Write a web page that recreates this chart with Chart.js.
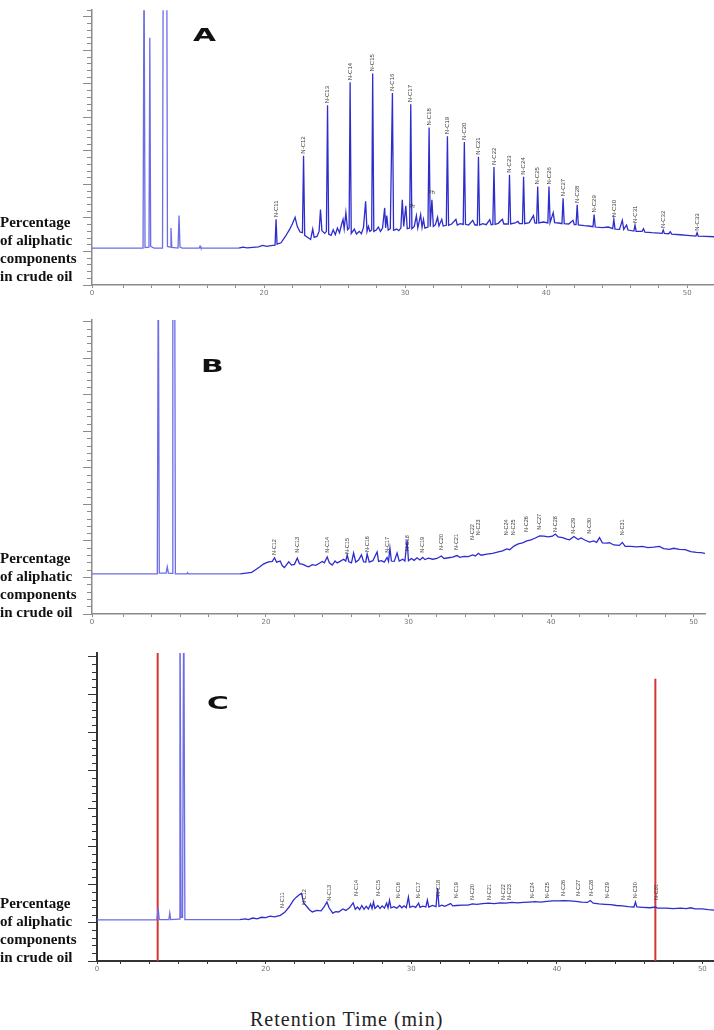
<!DOCTYPE html>
<html>
<head>
<meta charset="utf-8" />
<title>GC chromatograms of aliphatic fractions</title>
<style>
  body { margin: 0; background: #fff; width: 714px; height: 1030px; position: relative; overflow: hidden; }
  canvas { position: absolute; left: 0; }
  .ylab { position: absolute; left: 0; font: bold 15px/18px "Liberation Serif", "Times New Roman", serif; color: #111; white-space: nowrap; }
  .tag { position: absolute; font: bold 17px/17px "DejaVu Sans", sans-serif; transform: scaleX(1.75); transform-origin: left top; color: #111; }
  .xtitle { position: absolute; left: 250px; top: 1009px; font: 20px/20px "Liberation Serif", "Times New Roman", serif; letter-spacing: 1px; color: #222; white-space: nowrap; }
</style>
</head>
<body>
<canvas id="chartA" width="714" height="300" style="top:0px"></canvas>
<canvas id="chartB" width="714" height="325" style="top:305px"></canvas>
<canvas id="chartC" width="714" height="340" style="top:640px"></canvas>

<div class="tag" style="left:193px;top:27px">A</div>
<div class="tag" style="left:201px;top:358px">B</div>
<div class="tag" style="left:207px;top:695px">C</div>

<div class="ylab" style="top:213px">Percentage<br>of aliphatic<br>components<br>in crude oil</div>
<div class="ylab" style="top:549px">Percentage<br>of aliphatic<br>components<br>in crude oil</div>
<div class="ylab" style="top:894px">Percentage<br>of aliphatic<br>components<br>in crude oil</div>

<div class="xtitle">Retention Time (min)</div>

<script src="https://cdn.jsdelivr.net/npm/chart.js@4.4.1/dist/chart.umd.min.js"></script>
<script>
// retention time (min), detector response (arbitrary units)
const traceA = [
  [7.8,11],[11.42,11],[11.49,100],[11.56,11.2],[11.84,11.3],[11.9,73.8],[11.96,11.5],[12.2,11],
  [12.8,11],[12.85,100],[13.1,100],[13.15,11.5],[13.34,11.3],[13.4,17],[13.46,11.2],[13.9,11],
  [13.97,20.7],[14.04,11.3],[14.2,11],[15.4,11],[15.46,11.6],[15.52,11],[18.2,11],[18.5,11.3],
  [18.8,11.1],[19.6,11.4],[19.9,11.8],[20.2,11.5],[20.6,11.8],[20.78,11.9],[20.85,19.6],[20.92,12.2],
  [21.2,12.6],[21.5,14.4],[21.8,16.5],[22.0,18.2],[22.2,20.2],[22.35,17.5],[22.55,15.8],[22.72,15.6],
  [22.8,38.6],[22.88,14.8],[23.1,14.2],[23.3,13.6],[23.45,16.7],[23.55,14.2],[23.75,14.5],[23.9,16],
  [24.0,22.5],[24.1,16.2],[24.3,15.4],[24.42,16],[24.5,53.6],[24.58,15.2],[24.75,14.8],[24.9,16.5],
  [25.05,15],[25.2,17],[25.35,15.6],[25.5,18.2],[25.6,19.6],[25.68,16.8],[25.8,21.6],[25.92,16.5],
  [26.03,17],[26.1,60.5],[26.18,15.4],[26.4,16.7],[26.55,15.2],[26.75,16],[26.9,15.3],[27.05,17.2],
  [27.2,25],[27.3,16],[27.4,17.5],[27.5,16],[27.63,16.4],[27.7,63.1],[27.78,16],[27.95,16.4],
  [28.1,17.3],[28.25,16],[28.4,17],[28.55,23],[28.62,17],[28.7,20.7],[28.8,16.4],[28.95,16.8],
  [29.1,57.3],[29.18,16.3],[29.4,16.7],[29.55,16.2],[29.7,17],[29.8,25.4],[29.9,17.5],[30.05,23.6],
  [30.15,16.8],[30.32,17],[30.4,53.9],[30.48,16.8],[30.65,17.5],[30.8,20.7],[30.9,17],[31.1,21],
  [31.2,17.2],[31.3,19.6],[31.4,17],[31.62,17.3],[31.7,47],[31.78,17.4],[31.9,25.4],[32.0,17.5],
  [32.15,18],[32.3,20.2],[32.4,17.6],[32.6,19.6],[32.7,17.6],[32.92,17.8],[33.0,44.4],[33.08,17.8],
  [33.3,18.2],[33.6,19.6],[33.7,17.9],[33.9,18.3],[34.12,18.1],[34.2,42.7],[34.28,18.1],[34.5,17.9],
  [34.8,19.3],[34.95,17.9],[35.12,17.9],[35.2,38.3],[35.28,17.9],[35.5,18.3],[35.75,18],[36.0,19.5],
  [36.1,18],[36.22,18.1],[36.3,35.2],[36.38,18.1],[36.6,18.4],[36.9,19.6],[37.0,18.2],[37.32,18.2],
  [37.4,32.9],[37.48,18.2],[37.8,18.5],[38.0,19],[38.1,18.3],[38.32,18.3],[38.4,32.3],[38.48,18.3],
  [38.8,18.6],[39.1,20.7],[39.2,18.5],[39.32,18.4],[39.4,29.4],[39.48,18.5],[39.8,18.8],[40.12,18.5],
  [40.2,29.4],[40.28,18.6],[40.5,21.6],[40.6,18.6],[40.9,18.5],[41.12,18.3],[41.2,25.9],[41.28,18.3],
  [41.6,18.2],[41.9,19.3],[42.0,18],[42.12,18],[42.2,23.9],[42.28,17.9],[42.7,17.7],[43.0,17.6],
  [43.32,17.4],[43.4,21],[43.48,17.3],[44.0,17.1],[44.4,17.3],[44.72,16.8],[44.8,19.6],[44.88,16.7],
  [45.2,16.6],[45.4,19.3],[45.5,16.6],[45.7,17.9],[45.8,16.4],[46.22,16.1],[46.3,17.9],[46.38,16],
  [46.8,16],[46.9,16.8],[47.0,15.8],[47.5,15.6],[48.0,15.5],[48.22,15.4],[48.3,16.4],[48.38,15.4],
  [48.7,15.3],[48.8,15.9],[48.9,15.2],[49.5,15],[50.0,14.8],[50.62,14.6],[50.7,15.6],[50.78,14.6],
  [51.3,14.5],[51.9,14.4]
];

const traceB = [
  [7.8,11],[12.38,11],[12.45,100],[12.52,11.2],[13.0,11.2],[13.08,12.9],[13.16,11.2],[13.42,11.1],
  [13.47,100],[13.6,100],[13.65,11],[14.45,11],[14.5,11.3],[14.55,11],[18.2,11],[18.6,11.2],
  [19.0,11.4],[19.3,12.2],[19.6,13],[19.8,13.6],[20.0,14],[20.2,14.3],[20.45,14.4],[20.6,15.4],
  [20.75,14.2],[21.0,14.5],[21.15,13.2],[21.3,12.7],[21.45,13.5],[21.6,14.3],[21.8,13.4],[22.0,13.6],
  [22.2,15.3],[22.35,13.8],[22.6,13.6],[22.85,13.1],[23.0,12.9],[23.25,13.5],[23.5,13.3],[23.75,13.9],
  [23.95,14.4],[24.1,14],[24.3,15.6],[24.45,14],[24.65,13.4],[24.85,14.5],[25.0,14],[25.2,14.4],
  [25.45,15],[25.6,14.5],[25.7,16.2],[25.82,14.3],[26.0,14],[26.15,16.7],[26.3,14.2],[26.5,14.8],
  [26.7,16.2],[26.85,14.3],[27.0,14.2],[27.1,16.4],[27.25,14.2],[27.5,14.6],[27.8,17],[27.9,14.4],
  [28.1,14.6],[28.3,14.2],[28.5,15.5],[28.6,14.4],[28.7,18],[28.8,14.5],[29.0,14.4],[29.2,16.7],
  [29.35,14.5],[29.6,15],[29.75,14.5],[29.9,20.3],[30.0,14.6],[30.2,15.2],[30.4,14.7],[30.6,15.4],
  [30.8,14.8],[31.0,15.5],[31.15,14.9],[31.4,15.3],[31.7,15],[32.0,15.2],[32.3,15.9],[32.5,15.2],
  [32.8,15.4],[33.1,15.6],[33.4,16],[33.6,15.5],[33.9,15.8],[34.2,15.7],[34.5,16.2],[34.7,15.9],
  [34.9,16.6],[35.1,16.1],[35.5,16.4],[35.9,16.6],[36.3,17],[36.6,17.3],[36.9,17.8],[37.1,17.6],
  [37.4,18.6],[37.7,19.2],[38.0,19.5],[38.3,20],[38.6,20.3],[38.9,20.8],[39.2,21.4],[39.5,21.3],
  [39.8,21.1],[40.1,21.3],[40.3,21.9],[40.5,21.1],[40.8,20.9],[41.1,20.5],[41.3,20.3],[41.6,21.2],
  [41.9,20.4],[42.1,20.8],[42.4,20.2],[42.7,19.7],[43.0,20],[43.2,19.6],[43.4,20.9],[43.6,19.5],
  [43.9,19.4],[44.1,19.5],[44.4,18.9],[44.8,18.8],[45.0,19.6],[45.2,18.5],[45.6,18.5],[46.0,18.4],
  [46.4,18.5],[46.8,18.2],[47.2,18.3],[47.6,18.5],[47.9,17.9],[48.3,17.7],[48.6,18],[49.0,17.7],
  [49.4,17.6],[49.8,17.1],[50.2,16.9],[50.5,16.8],[50.8,16.6]
];

const traceC = [
  [8.4,10.8],[12.52,10.8],[12.6,14],[12.68,10.9],[13.34,10.9],[13.4,12.6],[13.46,10.9],[14.04,11],
  [14.1,100],[14.18,11.5],[14.28,11.5],[14.36,100],[14.44,10.9],[18.2,10.9],[18.6,11.1],[18.8,10.9],
  [19.1,11.3],[19.4,11.1],[19.7,11.5],[20.0,11.4],[20.3,11.8],[20.6,11.6],[21.0,12],[21.3,12.8],
  [21.6,14.2],[21.9,16],[22.1,16.8],[22.3,17.4],[22.45,17.8],[22.6,15.3],[22.8,14.4],[23.0,13.5],
  [23.2,12.9],[23.5,13.3],[23.8,13.2],[24.0,14.2],[24.2,15.5],[24.35,14],[24.6,12.6],[24.8,13],
  [25.0,12.9],[25.3,13.7],[25.5,13.3],[25.75,14],[26.0,15.3],[26.15,13.6],[26.3,14.2],[26.45,13.5],
  [26.6,14.6],[26.75,13.6],[26.9,14.4],[27.05,13.7],[27.2,15],[27.3,13.8],[27.4,15.5],[27.5,13.8],
  [27.7,14.6],[27.85,13.8],[28.0,14.5],[28.15,13.9],[28.3,15.2],[28.4,14],[28.5,16],[28.6,14],
  [28.8,14.3],[29.0,13.9],[29.2,14.6],[29.35,14],[29.5,14.5],[29.65,14],[29.8,16.8],[29.9,14.1],
  [30.1,14.4],[30.3,14.1],[30.5,15.2],[30.6,14.1],[30.8,14.4],[31.0,14.2],[31.1,16],[31.2,14.2],
  [31.45,14.6],[31.7,14.3],[31.8,19.2],[31.9,14.4],[32.1,14.7],[32.3,14.4],[32.7,15.1],[32.85,14.5],
  [33.1,14.6],[33.5,14.7],[33.9,14.7],[34.2,15],[34.5,14.9],[34.9,15.1],[35.3,15.2],[35.7,15.1],
  [36.1,15.3],[36.5,15.2],[36.9,15.4],[37.3,15.3],[37.7,15.4],[38.1,15.5],[38.5,15.6],[38.9,15.5],
  [39.3,15.7],[39.7,15.8],[40.1,15.8],[40.5,15.9],[40.9,15.8],[41.3,15.7],[41.7,15.5],[42.1,15.4],
  [42.3,15.9],[42.5,15.2],[42.9,15],[43.3,14.9],[43.7,14.8],[44.1,14.6],[44.5,14.5],[44.9,14.3],
  [45.3,14.2],[45.4,15.5],[45.5,14.2],[45.9,14.1],[46.4,14],[46.8,14.2],[46.9,13.9],[47.5,13.9],
  [48.0,13.8],[48.5,13.9],[48.9,13.8],[49.2,14],[49.5,13.7],[50.0,13.7],[50.4,13.5],[50.8,13.4]
];

// n-alkane peak labels: name, retention time, label foot (response units)
const namesA = ['N-C11','N-C12','N-C13','N-C14','N-C15','N-C16','N-C17','N-C18','N-C19','N-C20','N-C21','N-C22',
  'N-C23','N-C24','N-C25','N-C26','N-C27','N-C28','N-C29','N-C30','N-C31','N-C32','N-C33'];
const timesA = [20.85,22.8,24.5,26.1,27.7,29.1,30.4,31.7,33.0,34.2,35.2,36.3,37.4,38.4,39.4,40.2,41.2,42.2,43.4,44.8,46.3,48.3,50.7];
const levelsA = [19.6,38.6,53.6,60.5,63.1,57.3,53.9,47,44.4,42.7,38.3,35.2,32.9,32.3,29.4,29.4,25.9,23.9,21,19.6,17.9,16.4,15.6];
const isoNamesA = ['Pr','Ph'];
const isoTimesA = [30.5,31.85];
const isoLevelsA = [22.5,26.8];

const namesB = ['N-C12','N-C13','N-C14','N-C15','N-C16','N-C17','N-C18','N-C19','N-C20','N-C21','N-C22','N-C23',
  'N-C24','N-C25','N-C26','N-C27','N-C28','N-C29','N-C30','N-C31'];
const timesB = [20.6,22.2,24.3,25.7,27.1,28.5,29.9,31.0,32.3,33.4,34.5,34.9,36.9,37.4,38.3,39.2,40.3,41.6,42.7,45.0];
const levelsB = [15.6,16.2,16.2,15.9,16.4,16.2,16.7,16.2,17,17,19.7,21,21,21,21.9,22.5,21.9,21.4,21.4,21];

const namesC = ['N-C11','N-C12','N-C13','N-C14','N-C15','N-C16','N-C17','N-C18','N-C19','N-C20','N-C21','N-C22',
  'N-C23','N-C24','N-C25','N-C26','N-C27','N-C28','N-C29','N-C30','N-C31'];
const timesC = [21.17,22.68,24.4,26.26,27.71,29.15,30.46,31.84,33.08,34.18,35.35,36.31,36.72,38.31,39.34,40.44,41.47,42.37,43.47,45.4,46.84];
const levelsC = [13.4,14.2,15.3,16.6,16.6,16,16,16.6,16,15.5,15.5,15.5,15.5,16,16,16.6,16.6,16.6,16,16,15.5];

// red integration markers in C: time, top
const markerTimesC = [12.57, 46.77];
const markerTopsC = [81, 74.2];

// x tick marks every 2 min, labelled ones
const xTickMarks = [10,12,14,16,18,20,22,24,26,28,30,32,34,36,38,40,42,44,46,48,50];
const xTickLabels = [20,30,40,50];

const solventBlue = '#6c6ce6';
const traceBlue = '#2d2dcc';
const markerRed = '#d83434';

function peakLabels(names, times, levels, size, iso) {
  return {
    id: 'peakLabels',
    afterDatasetsDraw(chart) {
      const { ctx, scales: { x, y } } = chart;
      ctx.save();
      ctx.fillStyle = '#3a3a3a';
      ctx.font = size + 'px "Liberation Sans", Arial, sans-serif';
      ctx.textBaseline = 'middle';
      ctx.textAlign = 'left';
      names.forEach((name, i) => {
        ctx.save();
        ctx.translate(x.getPixelForValue(times[i]), y.getPixelForValue(levels[i]) - 2);
        ctx.rotate(-Math.PI / 2);
        ctx.fillText(name, 0, 0);
        ctx.restore();
      });
      if (iso) {
        ctx.textAlign = 'center';
        iso.names.forEach((name, i) => {
          ctx.fillText(name, x.getPixelForValue(iso.times[i]), y.getPixelForValue(iso.levels[i]) - 3);
        });
      }
      ctx.restore();
    }
  };
}

function buildChart(id, trace, cfg) {
  const datasets = [{
    data: trace.map(([x, y]) => ({ x, y })),
    borderColor: traceBlue,
    borderWidth: 1.3,
    pointRadius: 0,
    segment: { borderColor: c => (c.p0.parsed.x < 17 ? solventBlue : traceBlue) }
  }];
  (cfg.markerTimes || []).forEach((t, i) => {
    datasets.push({
      data: [{ x: t, y: 0 }, { x: t, y: cfg.markerTops[i] }],
      borderColor: markerRed,
      borderWidth: 2,
      pointRadius: 0
    });
  });

  return new Chart(document.getElementById(id), {
    type: 'line',
    data: { datasets },
    options: {
      responsive: false,
      animation: false,
      layout: { padding: { top: cfg.padTop, right: cfg.padRight, left: 0, bottom: 0 } },
      plugins: { legend: { display: false }, tooltip: { enabled: false } },
      scales: {
        x: {
          type: 'linear',
          min: cfg.xMin,
          max: cfg.xMax,
          afterBuildTicks: s => { s.ticks = [cfg.xMin].concat(xTickMarks).map(v => ({ value: v })); },
          afterFit: s => { s.height = cfg.xAxisHeight; },
          ticks: {
            autoSkip: false,
            maxRotation: 0,
            padding: 1,
            color: '#777',
            font: { size: 7, family: '"DejaVu Sans", sans-serif' },
            callback: v => (v === cfg.xMin ? '0' : (xTickLabels.includes(v) ? String(v) : ''))
          },
          grid: { drawOnChartArea: false, tickLength: 3, tickColor: cfg.axisColor },
          border: { color: cfg.axisColor, width: cfg.axisWidth }
        },
        y: {
          min: 0,
          max: cfg.yMax,
          afterFit: s => { s.width = cfg.yAxisWidth; },
          ticks: { stepSize: 2, autoSkip: false, includeBounds: false, callback: () => '' },
          grid: {
            drawOnChartArea: false,
            tickLength: 9,
            tickColor: cfg.axisColor,
            tickBorderDash: c => (c.tick && c.tick.value % 10 === 0 ? [] : [0, 4, 5, 100])
          },
          border: { color: cfg.axisColor, width: cfg.axisWidth }
        }
      }
    },
    plugins: [peakLabels(cfg.names, cfg.times, cfg.levels, cfg.labelSize, cfg.iso)]
  });
}

buildChart('chartA', traceA, {
  xMin: 7.8, xMax: 51.9, yMax: 82, yAxisWidth: 92, xAxisHeight: 15, padTop: 0, padRight: 0,
  axisColor: '#8a8a8a', axisWidth: 1.5,
  names: namesA, times: timesA, levels: levelsA, labelSize: 6,
  iso: { names: isoNamesA, times: isoTimesA, levels: isoLevelsA }
});

buildChart('chartB', traceB, {
  xMin: 7.8, xMax: 50.8, yMax: 80.5, yAxisWidth: 92, xAxisHeight: 16, padTop: 15, padRight: 9,
  axisColor: '#8a8a8a', axisWidth: 1.5,
  names: namesB, times: timesB, levels: levelsB, labelSize: 5.5
});

buildChart('chartC', traceC, {
  xMin: 8.4, xMax: 50.8, yMax: 81, yAxisWidth: 97, xAxisHeight: 19, padTop: 13, padRight: 0,
  axisColor: '#333333', axisWidth: 2,
  names: namesC, times: timesC, levels: levelsC, labelSize: 5.5,
  markerTimes: markerTimesC, markerTops: markerTopsC
});
</script>
</body>
</html>
